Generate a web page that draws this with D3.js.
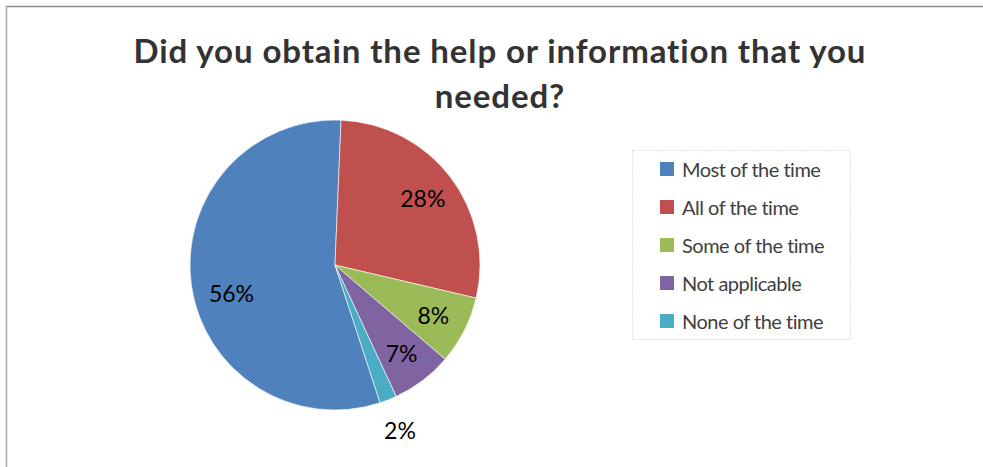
<!DOCTYPE html>
<html>
<head>
<meta charset="utf-8">
<script src="https://cdn.jsdelivr.net/npm/d3@7"></script>
<style>
  html, body { margin: 0; padding: 0; background: #fff; }
  svg { display: block; }
</style>
</head>
<body>
<svg id="chart" width="983" height="467"></svg>
<script>
// ---- data ----
const titleLines = ["Did you obtain the help or information that you", "needed?"];
const categories = ["Most of the time", "All of the time", "Some of the time", "Not applicable", "None of the time"];
const values = [55.7, 28.0, 7.6, 6.8, 1.9];
const colors = ["#4F81BD", "#C0504D", "#9BBB59", "#8064A2", "#4BACC6"];

// ---- layout ----
const W = 983, H = 467;
const svg = d3.select("#chart");
const font = "Lato, 'Open Sans', sans-serif";

// frame (only top & left visible)
svg.append("line").attr("x1", 6).attr("y1", 6.5).attr("x2", W).attr("y2", 6.5)
  .attr("stroke", "#8c8c8c").attr("stroke-width", 1.5);
svg.append("line").attr("x1", 6.5).attr("y1", 6).attr("x2", 6.5).attr("y2", H)
  .attr("stroke", "#a6a6a6").attr("stroke-width", 1.5);

// title
const title = svg.append("text").attr("text-anchor", "middle")
  .attr("font-family", font).attr("font-weight", "bold")
  .attr("font-size", 33).attr("fill", "#333333")
  .attr("letter-spacing", 0.9);
titleLines.forEach((t, i) => {
  title.append("tspan").attr("x", 500).attr("y", 63 + i * 45).text(t);
});

// pie
const cx = 335, cy = 265, R = 145;
const total = d3.sum(values);
const firstEnd = 2.4 * Math.PI / 180; // first boundary just right of 12 o'clock
const start = firstEnd - values[0] / total * 2 * Math.PI;
const pie = d3.pie().sort(null).value(d => d)
  .startAngle(start).endAngle(start + 2 * Math.PI);
const arcs = pie(values);
const arc = d3.arc().innerRadius(0).outerRadius(R);

const g = svg.append("g").attr("transform", `translate(${cx},${cy})`);
g.selectAll("path").data(arcs).enter().append("path")
  .attr("d", arc)
  .attr("fill", (d, i) => colors[i])
  .attr("stroke", "#ffffff").attr("stroke-width", 0.6);

const fmt = v => Math.round(v / total * 100) + "%";
g.selectAll("text.lbl").data(arcs).enter().append("text")
  .attr("class", "lbl")
  .attr("font-family", font).attr("font-size", 23).attr("fill", "#000")
  .attr("text-anchor", "middle").attr("dominant-baseline", "central")
  .attr("transform", d => {
    const a = (d.startAngle + d.endAngle) / 2;
    const share = d.value / total;
    let r = share < 0.05 ? R * 1.22 : (share > 0.5 ? R * 0.74 : R * 0.76);
    let ang = a;
    if (share > 0.5) ang = a - 0.13;
    return `translate(${Math.sin(ang) * r},${-Math.cos(ang) * r})`;
  })
  .text(d => fmt(d.value));

// legend
const lg = svg.append("g");
lg.append("rect").attr("x", 632.5).attr("y", 150.5).attr("width", 218).attr("height", 189)
  .attr("fill", "none").attr("stroke", "#c8c8c8").attr("stroke-width", 1)
  .attr("stroke-dasharray", "1,2");
const rowY = d3.scalePoint().domain(categories).range([169, 321]);
const items = lg.selectAll("g.item").data(categories).enter().append("g").attr("class", "item")
  .attr("transform", d => `translate(0,${rowY(d)})`);
items.append("rect").attr("x", 660).attr("y", -7).attr("width", 14).attr("height", 14)
  .attr("fill", (d, i) => colors[i]);
items.append("text").attr("x", 682).attr("y", 0)
  .attr("dominant-baseline", "central")
  .attr("font-family", font).attr("font-size", 20).attr("fill", "#404040")
  .attr("letter-spacing", -0.5)
  .text(d => d);
</script>
</body>
</html>
